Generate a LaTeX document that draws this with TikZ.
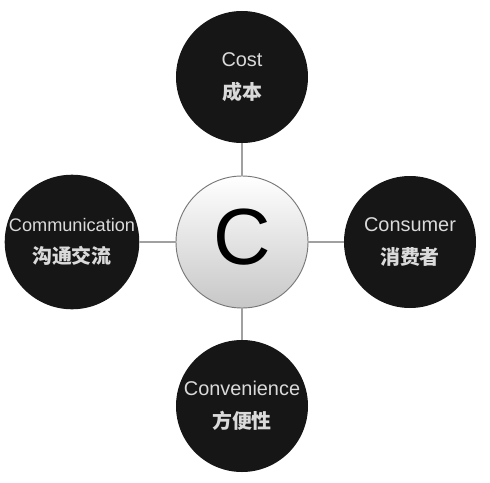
\documentclass[tikz,border=0pt]{standalone}
\usepackage{fontspec}
\usepackage{xcolor}
\setsansfont{Liberation Sans}
\newfontfamily\cjk{Noto Sans CJK SC}
\definecolor{darkfill}{RGB}{22, 22, 22}
\definecolor{lighttext}{RGB}{218, 218, 218}
\definecolor{linkgray}{RGB}{160, 160, 160}
\definecolor{rimgray}{RGB}{120, 120, 120}
\usetikzlibrary{positioning}

\begin{document}
\begin{tikzpicture}[
    outer/.style={
        circle,
        fill=darkfill,
        minimum size=3.96cm,
        inner sep=0pt,
        align=center,
        text=lighttext,
        font=\sffamily\fontsize{17}{28}\selectfont
    },
    core/.style={
        circle,
        draw=rimgray,
        line width=0.8pt,
        top color=white,
        bottom color=black!22,
        minimum size=3.96cm,
        inner sep=0pt,
        font=\sffamily\fontsize{68}{68}\selectfont
    },
    link/.style={draw=linkgray,line width=1.2pt}
]
    \useasboundingbox (-7.26,-7.2) rectangle (7.44,7.26);
    % Center
    \node[core] (center) at (0,0) {\raisebox{4pt}[\height][\depth]{C}};
    % The four C's
    \node[outer] (cost) at (0,4.95) {Cost\\{\cjk\bfseries 成本}};
    \node[outer] (consumer) at (5.04,0) {Consumer\\{\cjk\bfseries 消费者}};
    \node[outer] (convenience) at (0,-4.92) {Convenience\\{\cjk\bfseries 方便性}};
    \node[outer, font=\sffamily\fontsize{15.5}{27}\selectfont] (communication) at (-5.1,0) {Communication\\{\cjk\bfseries\fontsize{17}{27}\selectfont 沟通交流}};

    \draw[link] (center) -- (cost);
    \draw[link] (center) -- (consumer);
    \draw[link] (center) -- (convenience);
    \draw[link] (center) -- (communication);
\end{tikzpicture}
\end{document}
